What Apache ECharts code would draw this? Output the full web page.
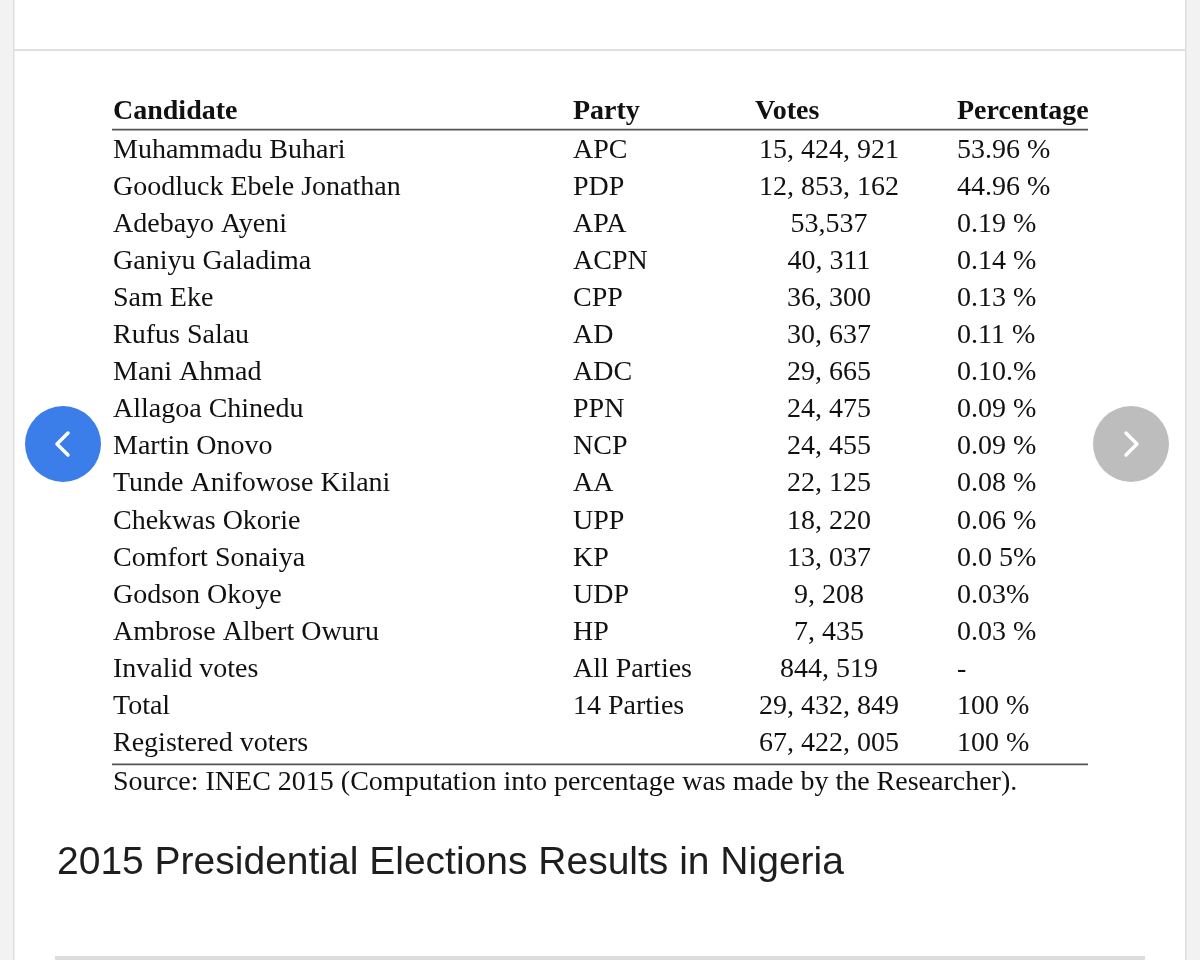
<!DOCTYPE html>
<html><head><meta charset="utf-8">
<script src="https://cdn.jsdelivr.net/npm/echarts@6/dist/echarts.min.js"></script>
<style>html,body{margin:0;padding:0;background:#fff}#c{width:1200px;height:960px}</style>
</head><body><div id="c"></div>
<script>
const headers = ['Candidate', 'Party', 'Votes', 'Percentage'];
const candidates = ['Muhammadu Buhari', 'Goodluck Ebele Jonathan', 'Adebayo Ayeni', 'Ganiyu Galadima', 'Sam Eke', 'Rufus Salau', 'Mani Ahmad', 'Allagoa Chinedu', 'Martin Onovo', 'Tunde Anifowose Kilani', 'Chekwas Okorie', 'Comfort Sonaiya', 'Godson Okoye', 'Ambrose Albert Owuru', 'Invalid votes', 'Total', 'Registered voters'];
const parties = ['APC', 'PDP', 'APA', 'ACPN', 'CPP', 'AD', 'ADC', 'PPN', 'NCP', 'AA', 'UPP', 'KP', 'UDP', 'HP', 'All Parties', '14 Parties', ''];
const votes = ['15, 424, 921', '12, 853, 162', '53,537', '40, 311', '36, 300', '30, 637', '29, 665', '24, 475', '24, 455', '22, 125', '18, 220', '13, 037', '9, 208', '7, 435', '844, 519', '29, 432, 849', '67, 422, 005'];
const percentages = ['53.96 %', '44.96 %', '0.19 %', '0.14 %', '0.13 %', '0.11 %', '0.10.%', '0.09 %', '0.09 %', '0.08 %', '0.06 %', '0.0 5%', '0.03%', '0.03 %', '-', '100 %', '100 %'];
const sourceNote = 'Source: INEC 2015 (Computation into percentage was made by the Researcher).';
const titleText = '2015 Presidential Elections Results in Nigeria';

// layout (styling only)
const COL_X = [113, 573, 829, 957];
const COL_ALIGN = ['left', 'left', 'center', 'left'];
const RULE_X0 = 112, RULE_X1 = 1088;
const SERIF = '"Liberation Serif", "Times New Roman", serif';
const TEXT_DY = 2;

const rowCats = ['__header'].concat(candidates, ['__source']);
const rowData = rowCats.map((c, i) => [0, i]);

function renderRow(params, api) {
  const idx = api.value(1);
  const y = api.coord([0, idx])[1];
  const band = api.size([0, 1])[1];
  const xs = COL_X.map(v => api.coord([v, idx])[0]);
  const children = [];
  const mk = (text, x, align, bold, dy) => ({
    type: 'text',
    style: {
      text: text, x: x, y: y + TEXT_DY + (dy || 0), align: align, verticalAlign: 'middle',
      fontFamily: SERIF, fontSize: 28, fontWeight: bold ? 'bold' : 'normal', fill: '#111111'
    }
  });
  if (idx === 0) {
    headers.forEach((h, j) => children.push(mk(h, j === 2 ? api.coord([755, idx])[0] : xs[j], 'left', true, -1)));
    const ly = y + band / 2;
    children.push({ type: 'line', shape: { x1: api.coord([RULE_X0, idx])[0], y1: ly, x2: api.coord([RULE_X1, idx])[0], y2: ly }, style: { stroke: '#555', lineWidth: 1.6 } });
  } else if (idx === rowCats.length - 1) {
    children.push(mk(sourceNote, xs[0], 'left', false, 2));
  } else {
    const r = idx - 1;
    const cells = [candidates[r], parties[r], votes[r], percentages[r]];
    cells.forEach((t, j) => { if (t) children.push(mk(t, xs[j], COL_ALIGN[j], false)); });
    if (r === candidates.length - 1) {
      const ly = y + band / 2 + 4;
      children.push({ type: 'line', shape: { x1: api.coord([RULE_X0, idx])[0], y1: ly, x2: api.coord([RULE_X1, idx])[0], y2: ly }, style: { stroke: '#555', lineWidth: 1.6 } });
    }
  }
  return { type: 'group', children: children };
}

const chart = echarts.init(document.getElementById('c'), null, { renderer: 'canvas' });
chart.setOption({
  animation: false,
  backgroundColor: '#ffffff',
  grid: { left: 0, right: 0, top: 92.5, bottom: 162.5 },
  xAxis: { type: 'value', min: 0, max: 1200, show: false },
  yAxis: { type: 'category', data: rowCats, inverse: true, show: false },
  series: [{ type: 'custom', renderItem: renderRow, data: rowData, silent: true }],
  graphic: [
    { type: 'rect', left: 0, top: 0, shape: { width: 13, height: 960 }, style: { fill: '#f2f2f2' }, silent: true },
    { type: 'rect', left: 13, top: 0, shape: { width: 1.5, height: 960 }, style: { fill: '#dedede' }, silent: true },
    { type: 'rect', left: 1186, top: 0, shape: { width: 14, height: 960 }, style: { fill: '#f2f2f2' }, silent: true },
    { type: 'rect', left: 1185, top: 0, shape: { width: 1.5, height: 960 }, style: { fill: '#dedede' }, silent: true },
    { type: 'rect', left: 14, top: 49, shape: { width: 1171, height: 2 }, style: { fill: '#e0e0e0' }, silent: true },
    { type: 'rect', left: 55, top: 956, shape: { width: 1090, height: 4 }, style: { fill: '#dcdcdc' }, silent: true },
    { type: 'circle', shape: { cx: 63, cy: 444, r: 38 }, style: { fill: '#3b7ee9' }, silent: true },
    { type: 'polyline', shape: { points: [[68, 433], [57, 444], [68, 455]] }, style: { stroke: '#ffffff', lineWidth: 3.5, fill: null, lineCap: 'round', lineJoin: 'round' }, silent: true },
    { type: 'circle', shape: { cx: 1131, cy: 444, r: 38 }, style: { fill: '#bdbdbd' }, silent: true },
    { type: 'polyline', shape: { points: [[1126, 433], [1137, 444], [1126, 455]] }, style: { stroke: '#ffffff', lineWidth: 3.5, fill: null, lineCap: 'round', lineJoin: 'round' }, silent: true },
    { type: 'text', left: 57, top: 844, style: { text: titleText, fontFamily: '"Liberation Sans", Arial, sans-serif', fontSize: 39, fill: '#1e1e1e' }, silent: true }
  ]
});
</script></body></html>
